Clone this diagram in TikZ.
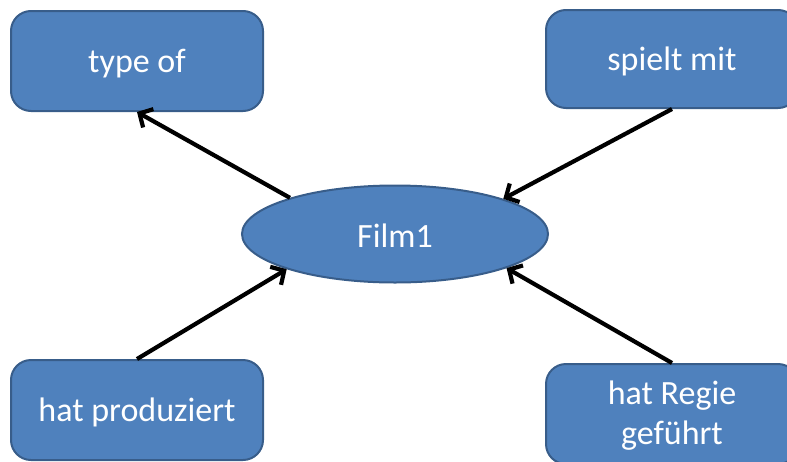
\documentclass[tikz,border=0pt]{standalone}
\usepackage{fontspec}
\setmainfont{Carlito}
\usetikzlibrary{arrows.meta,shapes.geometric}
\definecolor{boxfill}{HTML}{4F81BD}
\definecolor{boxline}{HTML}{385D8A}
\begin{document}
\begin{tikzpicture}[x=1pt,y=-1pt,
  shapebase/.style={draw=boxline, line width=2pt, fill=boxfill, inner sep=0pt},
  relbox/.style={shapebase, rounded corners=20pt,
    minimum width=252pt, minimum height=100pt},
  entity/.style={shapebase, ellipse, minimum width=306pt, minimum height=97pt},
  lbl/.style={text=white, align=center, inner sep=0pt,
    font=\fontsize{34}{40}\selectfont},
  rel/.style={line width=4.2pt, draw=black, -{Straight Barb[length=10pt,width=21pt]}}]
\useasboundingbox (0,0) rectangle (787,461);
\clip (0,0) rectangle (787,461);
\node[relbox] (typeof) at (137,61) {};
\node[relbox, minimum height=98pt] (spielt) at (672,59) {};
\node[entity] (film) at (395,234) {};
\node[relbox] (prod) at (137,410) {};
\node[relbox] (regie) at (672,414) {};
% labels, set a little below the shape centres
\node[lbl] (typeoflbl) at ([yshift=-3pt]typeof.center) {type of};
\node[lbl] (spieltlbl) at ([yshift=-2pt]spielt.center) {spielt mit};
\node[lbl] (filmlbl) at ([yshift=-2pt]film.center) {Film1};
\node[lbl] (prodlbl) at ([yshift=-2pt]prod.center) {hat produziert};
\node[lbl] (regielbl) at ([yshift=-2pt]regie.center) {hat Regie\\geführt};
\draw[rel] (film.161) -- (typeof.south);
\draw[rel] (spielt.south) -- (film.18);
\draw[rel] (prod.north) -- (film.198);
\draw[rel] (regie.north) -- (film.343);
\end{tikzpicture}
\end{document}
